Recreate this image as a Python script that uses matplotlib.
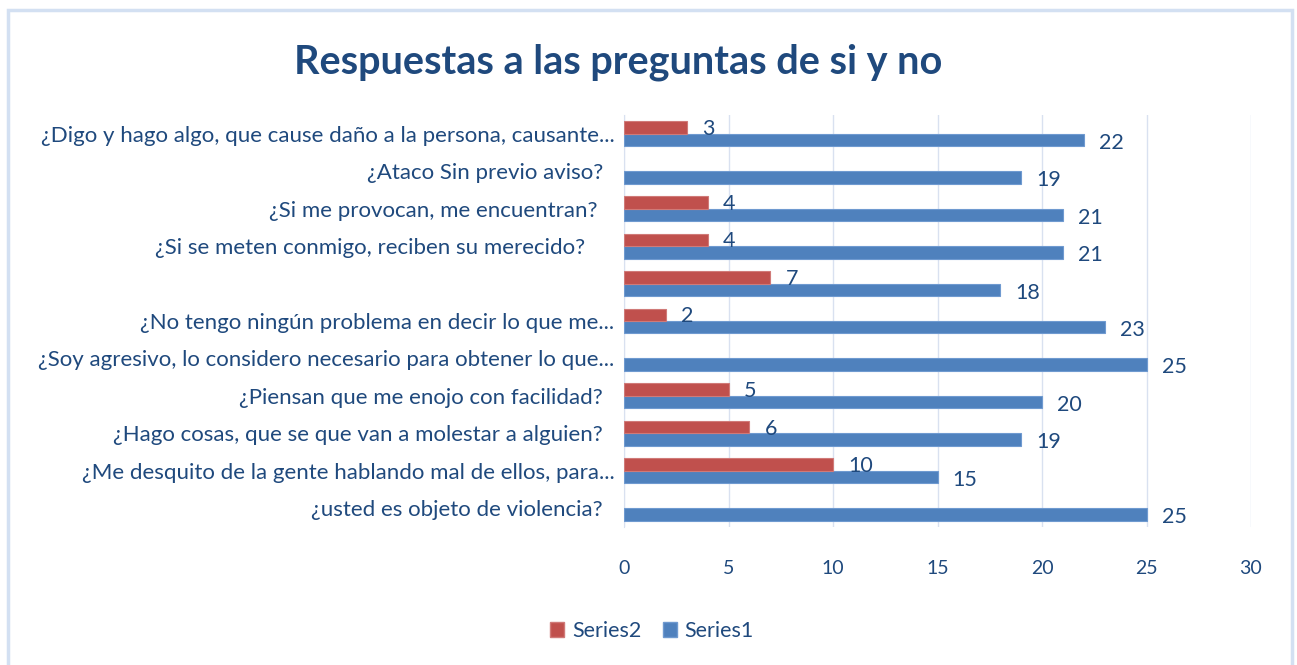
import numpy as np
import matplotlib.pyplot as plt
from matplotlib.patches import Rectangle, Patch


# categories listed bottom -> top, as drawn on the y axis
categories = [
    "¿usted es objeto de violencia?  ",
    "¿Me desquito de la gente hablando mal de ellos, para...",
    "¿Hago cosas, que se que van a molestar a alguien?  ",
    "¿Piensan que me enojo con facilidad?  ",
    "¿Soy agresivo, lo considero necesario para obtener lo que...",
    "¿No tengo ningún problema en decir lo que me...",
    "",
    "¿Si se meten conmigo, reciben su merecido?     ",
    "¿Si me provocan, me encuentran?   ",
    "¿Ataco Sin previo aviso?  ",
    "¿Digo y hago algo, que cause daño a la persona, causante...",
]
series1 = [25, 15, 19, 20, 25, 23, 18, 21, 21, 19, 22]
series2 = [None, 10, 6, 5, None, 2, 7, 4, 4, None, 3]
x_ticks = [0, 5, 10, 15, 20, 25, 30]

BLUE = "#4F81BD"
RED = "#C0504D"
TEXT = "#1F497D"
GRID = "#D9E1F0"

plt.rcParams.update({
    "font.family": ["Lato", "DejaVu Sans"],
    "font.size": 14,
    "text.color": TEXT,
    "xtick.color": TEXT,
    "ytick.color": TEXT,
})

fig = plt.figure(figsize=(12.97, 6.65), dpi=100)
ax = fig.add_axes([624 / 1297, 1 - 527 / 665, (1251 - 624) / 1297, (527 - 115) / 665])

y = np.arange(len(categories))
h = 0.333
s2 = np.array([np.nan if v is None else v for v in series2], dtype=float)

b1 = ax.barh(y - h / 2, series1, height=h, color=BLUE, edgecolor="#6F9AD0",
             linewidth=0.8, zorder=3)
b2 = ax.barh(y + h / 2, np.nan_to_num(s2), height=h, color=RED, edgecolor="#D07A78",
             linewidth=0.8, zorder=3)

for rect, v in zip(b1, series1):
    ax.annotate(str(v), (rect.get_width(), rect.get_y() + rect.get_height() / 2),
                xytext=(11, -2), textcoords="offset points", ha="left", va="center",
                fontsize=15.5, color=TEXT)
for rect, v in zip(b2, s2):
    if np.isnan(v):
        rect.set_visible(False)
        continue
    ax.annotate(str(int(v)), (rect.get_width(), rect.get_y() + rect.get_height() / 2),
                xytext=(11, -1), textcoords="offset points", ha="left", va="center",
                fontsize=15.5, color=TEXT)

ax.set_xlim(0, 30)
ax.set_ylim(-0.5, len(categories) - 0.5)
ax.set_xticks(x_ticks)
ax.set_xticklabels([str(t) for t in x_ticks], fontsize=14)
ax.set_yticks(y)
ax.set_yticklabels(categories, fontsize=16)
ax.tick_params(axis="both", length=0)
ax.tick_params(axis="x", pad=24)
ax.tick_params(axis="y", pad=7)
ax.grid(axis="x", color=GRID, linewidth=1, zorder=0)
for side in ["top", "right", "bottom"]:
    ax.spines[side].set_visible(False)
ax.spines["left"].set_color(GRID)

fig.text(618 / 1297, 1 - 62 / 665, "Respuestas a las preguntas de si y no",
         ha="center", va="center", fontsize=28.5, fontweight="bold", color=TEXT)

handles = [Patch(facecolor=RED, edgecolor="#D07A78"), Patch(facecolor=BLUE, edgecolor="#6F9AD0")]
fig.legend(handles, ["Series2", "Series1"], loc="center", bbox_to_anchor=(652 / 1297, 1 - 631 / 665),
           ncol=2, frameon=False, fontsize=15.5, handlelength=0.65, handleheight=0.65,
           handletextpad=0.35, columnspacing=1.0)

# chart area border (bottom edge runs off the image)
fig.patches.append(Rectangle((8 / 1297, -10 / 665), (1292 - 8) / 1297, (655 + 10) / 665,
                             transform=fig.transFigure, fill=False,
                             edgecolor="#D3E0F2", linewidth=2.5))

fig.savefig("out.png", dpi=100)
